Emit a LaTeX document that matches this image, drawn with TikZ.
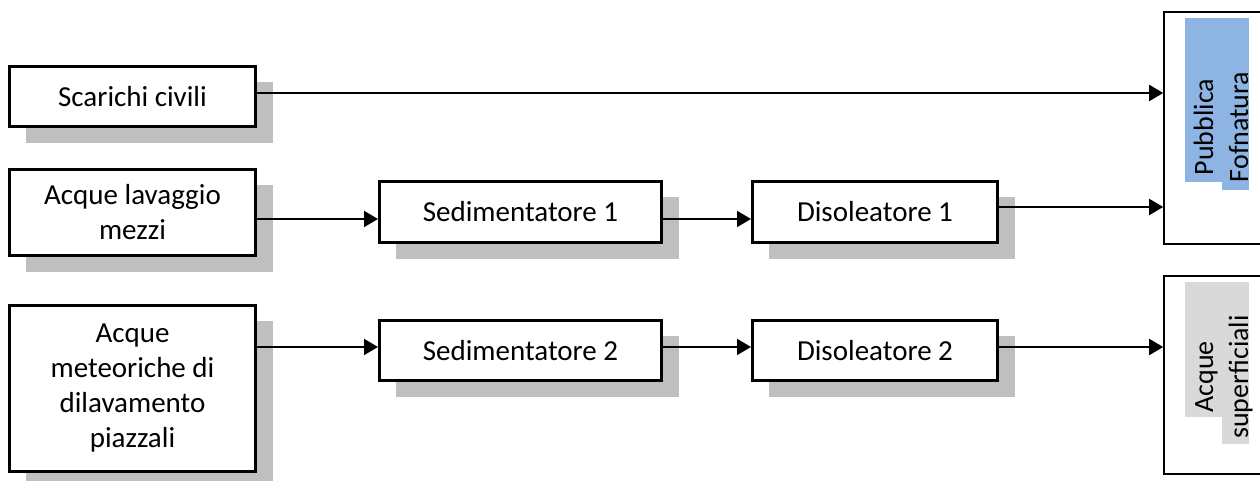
\documentclass[tikz,border=0pt]{standalone}
\usepackage{fontspec}
\setmainfont{Carlito}
\usetikzlibrary{shadows,arrows.meta}
\definecolor{shadowgray}{HTML}{BFBFBF}
\definecolor{hlblue}{HTML}{8EB4E3}
\definecolor{hlgray}{HTML}{D9D9D9}
\newcommand{\sinkfont}{\fontsize{14pt}{17pt}\selectfont}
\tikzset{
  procbox/.style={draw=black, line width=1.3pt, fill=white, align=center,
    inner sep=2pt, font=\fontsize{14.5pt}{17.5pt}\selectfont,
    drop shadow={shadow xshift=8.5pt, shadow yshift=-8pt, fill=shadowgray, opacity=1}},
  sinkbox/.style={draw=black, line width=1.1pt, fill=white},
  flow/.style={line width=1pt, -{Triangle[length=7pt,width=8pt]}},
  vlabel/.style={rotate=90, anchor=base, inner sep=0pt}
}
\begin{document}
\begin{tikzpicture}[x=0.5pt,y=-0.5pt]
\useasboundingbox (0,0) rectangle (1260,481);

% sources
\node[procbox, minimum width=123.2pt, minimum height=30.2pt] (civ) at (132.5,96.5) {Scarichi civili};
\node[procbox, minimum width=123.2pt, minimum height=43.2pt] (lav) at (132.5,212.5) {Acque lavaggio\\mezzi};
\node[procbox, minimum width=123.2pt, minimum height=83.2pt] (met) at (132.5,388.5) {Acque\\meteoriche di\\dilavamento\\piazzali};

% treatment stages
\node[procbox, minimum width=141.2pt, minimum height=30.7pt] (sed1) at (520.5,212) {Sedimentatore 1};
\node[procbox, minimum width=122.7pt, minimum height=30.7pt] (dis1) at (875,212) {Disoleatore 1};
\node[procbox, minimum width=141.2pt, minimum height=30.2pt] (sed2) at (520.5,350.5) {Sedimentatore 2};
\node[procbox, minimum width=122.7pt, minimum height=30.2pt] (dis2) at (875,350.5) {Disoleatore 2};

% receivers
\node[sinkbox, minimum width=62.2pt, minimum height=115.7pt] (pf) at (1226.5,128) {};
\node[sinkbox, minimum width=62.2pt, minimum height=98.7pt] (as) at (1226.5,375) {};

% highlighted vertical labels
\fill[hlblue] (1185,18) rectangle (1222,182);
\fill[hlblue] (1222,18) rectangle (1249,190);
\node[vlabel] (pf1) at (1213,127) {\sinkfont Pubblica};
\node[vlabel] (pf2) at (1248,127) {\sinkfont Fofnatura};

\fill[hlgray] (1185,282) rectangle (1222,417);
\fill[hlgray] (1222,282) rectangle (1249,444);
\node[vlabel] (as1) at (1213,377) {\sinkfont Acque};
\node[vlabel] (as2) at (1248,377) {\sinkfont superficiali};

% flows
\draw[flow] ([yshift=1.75pt]civ.east) -- ([yshift=1.75pt]civ.east -| pf.west);
\draw[flow] ([yshift=-3.25pt]lav.east) -- ([yshift=-3.25pt]lav.east -| sed1.west);
\draw[flow] ([yshift=-3.5pt]sed1.east) -- ([yshift=-3.5pt]sed1.east -| dis1.west);
\draw[flow] ([yshift=2.5pt]dis1.east) -- ([yshift=2.5pt]dis1.east -| pf.west);
\draw[flow] ([yshift=20.75pt]met.east) -- ([yshift=20.75pt]met.east -| sed2.west);
\draw[flow] ([yshift=1.75pt]sed2.east) -- ([yshift=1.75pt]sed2.east -| dis2.west);
\draw[flow] ([yshift=1.75pt]dis2.east) -- ([yshift=1.75pt]dis2.east -| as.west);
\end{tikzpicture}
\end{document}
